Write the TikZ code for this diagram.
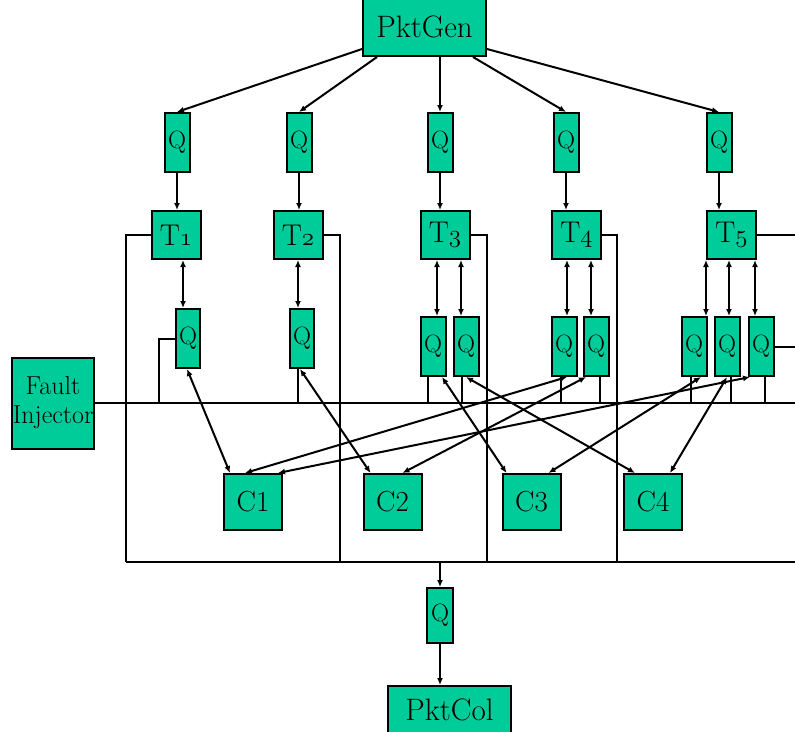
\documentclass[tikz,border=0pt]{standalone}
\usepackage{fontspec}
\usetikzlibrary{arrows.meta}

\definecolor{boxgreen}{RGB}{0,204,153}

\tikzset{
  box/.style={draw,fill=boxgreen,line width=2pt,inner sep=0pt},
  wide/.style={box,minimum width=123pt,font=\fontsize{31}{33}\selectfont},
  qbox/.style={box,minimum width=25pt,minimum height=59pt,font=\fontsize{25}{27}\selectfont},
  tbox/.style={box,minimum width=49pt,minimum height=48pt,font=\fontsize{30}{32}\selectfont},
  cbox/.style={box,minimum width=58pt,minimum height=56pt,font=\fontsize{29}{31}\selectfont},
  arr/.style={-{Latex[length=7pt,width=6pt]}},
  dbl/.style={{Latex[length=7pt,width=6pt]}-{Latex[length=7pt,width=6pt]}},
}
\newcommand{\osn}[1]{$\mathnormal{#1}$}

\begin{document}
\begin{tikzpicture}[x=1pt,y=-1pt,line width=2pt]
\useasboundingbox (0,0) rectangle (795,731);

\coordinate (bR) at (795,403);
\coordinate (d1) at (126,562);
\coordinate (d2) at (340,562);
\coordinate (d3) at (487,562);
\coordinate (d4) at (617,562);
\coordinate (dR) at (795,562);

% generator, collector, injector
\node[wide,minimum height=58pt] (gen) at (424.5,27) {PktGen};
\node[wide,minimum height=48pt] (col) at (449.5,710) {PktCol};
\node[box,minimum width=82pt,minimum height=91pt,align=center,
  font=\fontsize{26}{29}\selectfont] (fault) at (53,403) {Fault\\Injector};

% input queues
\node[qbox] (qg1) at (177,142.5) {Q};
\node[qbox] (qg2) at (299,142.5) {Q};
\node[qbox] (qg3) at (440,142.5) {Q};
\node[qbox] (qg4) at (566,142.5) {Q};
\node[qbox] (qg5) at (719,142.5) {Q};

% tasks
\node[tbox] (t1) at (176,235) {T\osn{1}};
\node[tbox] (t2) at (298,235) {T\osn{2}};
\node[tbox] (t3) at (445,235) {T\osn{3}};
\node[tbox] (t4) at (576.5,235) {T\osn{4}};
\node[tbox] (t5) at (731.5,235) {T\osn{5}};

% output queues
\node[qbox,minimum width=24pt] (q11) at (188,338.5) {Q};
\node[qbox,minimum width=24pt] (q21) at (302,338.5) {Q};
\node[qbox] (q31) at (433,346.5) {Q};
\node[qbox] (q32) at (466,346.5) {Q};
\node[qbox] (q41) at (564,346.5) {Q};
\node[qbox] (q42) at (596,346.5) {Q};
\node[qbox] (q51) at (694,346.5) {Q};
\node[qbox] (q52) at (727,346.5) {Q};
\node[qbox] (q53) at (761,346.5) {Q};

% consumers
\node[cbox] (c1) at (253,502) {C1};
\node[cbox] (c2) at (392.5,502) {C2};
\node[cbox] (c3) at (531.5,502) {C3};
\node[cbox] (c4) at (653,502) {C4};

\node[qbox,minimum width=26pt,minimum height=55pt] (qc) at (440,615.5) {Q};

% generator to queues
\draw[arr] ([yshift=8pt]gen.south west) -- (qg1.north);
\draw[arr] ([xshift=15pt]gen.south west) -- (qg2.north);
\draw[arr] (gen.south -| qg3) -- (qg3.north);
\draw[arr] ([xshift=-14pt]gen.south east) -- (qg4.north);
\draw[arr] ([yshift=8pt]gen.south east) -- (qg5.north);
\foreach \i in {1,...,5}
  \draw[arr] (qg\i.south) -- (qg\i.south |- t\i.north);

% tasks to their queues
\foreach \t/\q/\d in {t1/q11/-5,t2/q21/-4,t3/q31/4,t3/q32/-5,t4/q41/3,
    t4/q42/-5,t5/q51/12,t5/q52/2,t5/q53/-6}
  \draw[dbl] ([xshift=\d pt]\q.north |- \t.south) -- ([xshift=\d pt]\q.north);

% fault bus
\draw (fault.east) -- (fault.east -| bR);
\draw (q11.west) -| ([xshift=-16pt]q11.west |- bR);
\foreach \q/\d in {q21/-4,q31/-5,q32/-4,q41/-3,q42/4,q51/-3,q52/4,q53/4}
  \draw ([xshift=\d pt]\q.south) -- ([xshift=\d pt]\q.south |- bR);
\draw (q53.east) -- (q53.east -| bR);

% queues to consumers
\foreach \q/\dq/\c/\dc in {q11/-1/c1/-23,q21/-2/c2/-22,q41/3/c1/-8,
    q53/-11/c1/25,q42/-10/c2/10,q31/9/c3/-25,q51/7/c3/17,q32/0/c4/-18,q52/0/c4/17}
  \draw[dbl] ([xshift=\dq pt]\q.south) -- ([xshift=\dc pt]\c.north);

% task bus to collector
\draw (t1.west) -| (d1);
\draw (t2.east) -| (d2);
\draw (t3.east) -| (d3);
\draw (t4.east) -| (d4);
\draw (t5.east) -- (t5.east -| dR);
\draw (d1) -- (dR);
\draw[arr] (qc.north |- d1) -- (qc.north);
\draw[arr] (qc.south) -- (qc.south |- col.north);
\end{tikzpicture}
\end{document}
